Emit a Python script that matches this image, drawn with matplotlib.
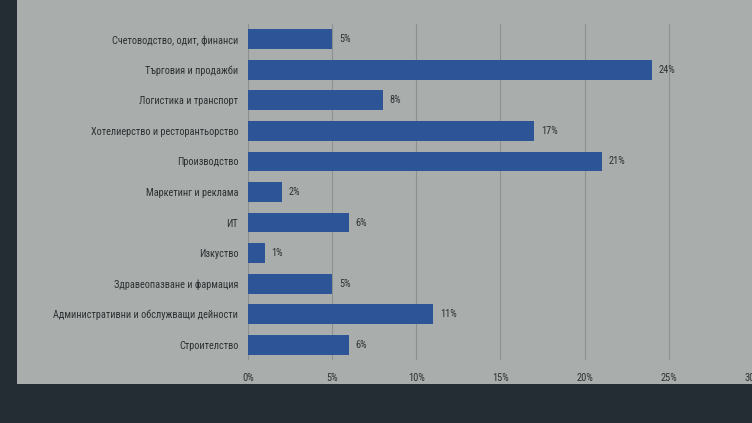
import matplotlib.pyplot as plt
from matplotlib.patches import Rectangle

# Data
categories = [
    "Счетоводство, одит, финанси",
    "Търговия и продажби",
    "Логистика и транспорт",
    "Хотелиерство и ресторантьорство",
    "Производство",
    "Маркетинг и реклама",
    "ИТ",
    "Изкуство",
    "Здравеопазване и фармация",
    "Административни и обслужващи дейности",
    "Строителство",
]
values = [5, 24, 8, 17, 21, 2, 6, 1, 5, 11, 6]
ticks = [0, 5, 10, 15, 20, 25, 30]
tick_labels = [f"{t}%" for t in ticks]

bar_color = "#2d5496"
screen_color = "#a9adab"
text_color = "#2e3133"
grid_color = "#8c908e"

# narrow faces first (Calibri-like look), DejaVu as the last resort
plt.rcParams['font.family'] = ['Liberation Sans Narrow', 'Roboto Condensed', 'PT Sans Narrow',
                               'Fira Sans Condensed', 'Open Sans Condensed', 'DejaVu Sans']
plt.rcParams['font.stretch'] = 'condensed'

fig = plt.figure(figsize=(7.52, 4.23), dpi=100, facecolor="#232d33")

# the lit projection screen behind the chart
fig.patches.append(Rectangle((17 / 752, 1 - 384 / 423), 1, 384 / 423,
                             transform=fig.transFigure, facecolor=screen_color,
                             edgecolor="none", zorder=-10))

ax = fig.add_axes([248 / 752, 1 - 360 / 423, 505 / 752, 336 / 423])
ax.set_facecolor("none")

y = list(range(len(categories)))
ax.barh(y, values, height=0.65, color=bar_color, zorder=3)
for yi, v in zip(y, values):
    ax.text(v + 0.4, yi, f"{v}%", va="center", ha="left", fontsize=7.5, color=text_color)

ax.set_xlim(0, 30)
ax.set_ylim(len(categories) - 0.5, -0.5)
ax.set_yticks(y)
ax.set_yticklabels(categories, fontsize=7.4, color=text_color)
ax.set_xticks(ticks)
ax.set_xticklabels(tick_labels, fontsize=7.5, color=text_color)
ax.tick_params(axis="y", length=0, pad=7)
ax.tick_params(axis="x", length=0, pad=9)
ax.grid(axis="x", color=grid_color, linewidth=0.8, zorder=1)
for s in ax.spines.values():
    s.set_visible(False)

fig.savefig("out.png", dpi=100, facecolor=fig.get_facecolor())
